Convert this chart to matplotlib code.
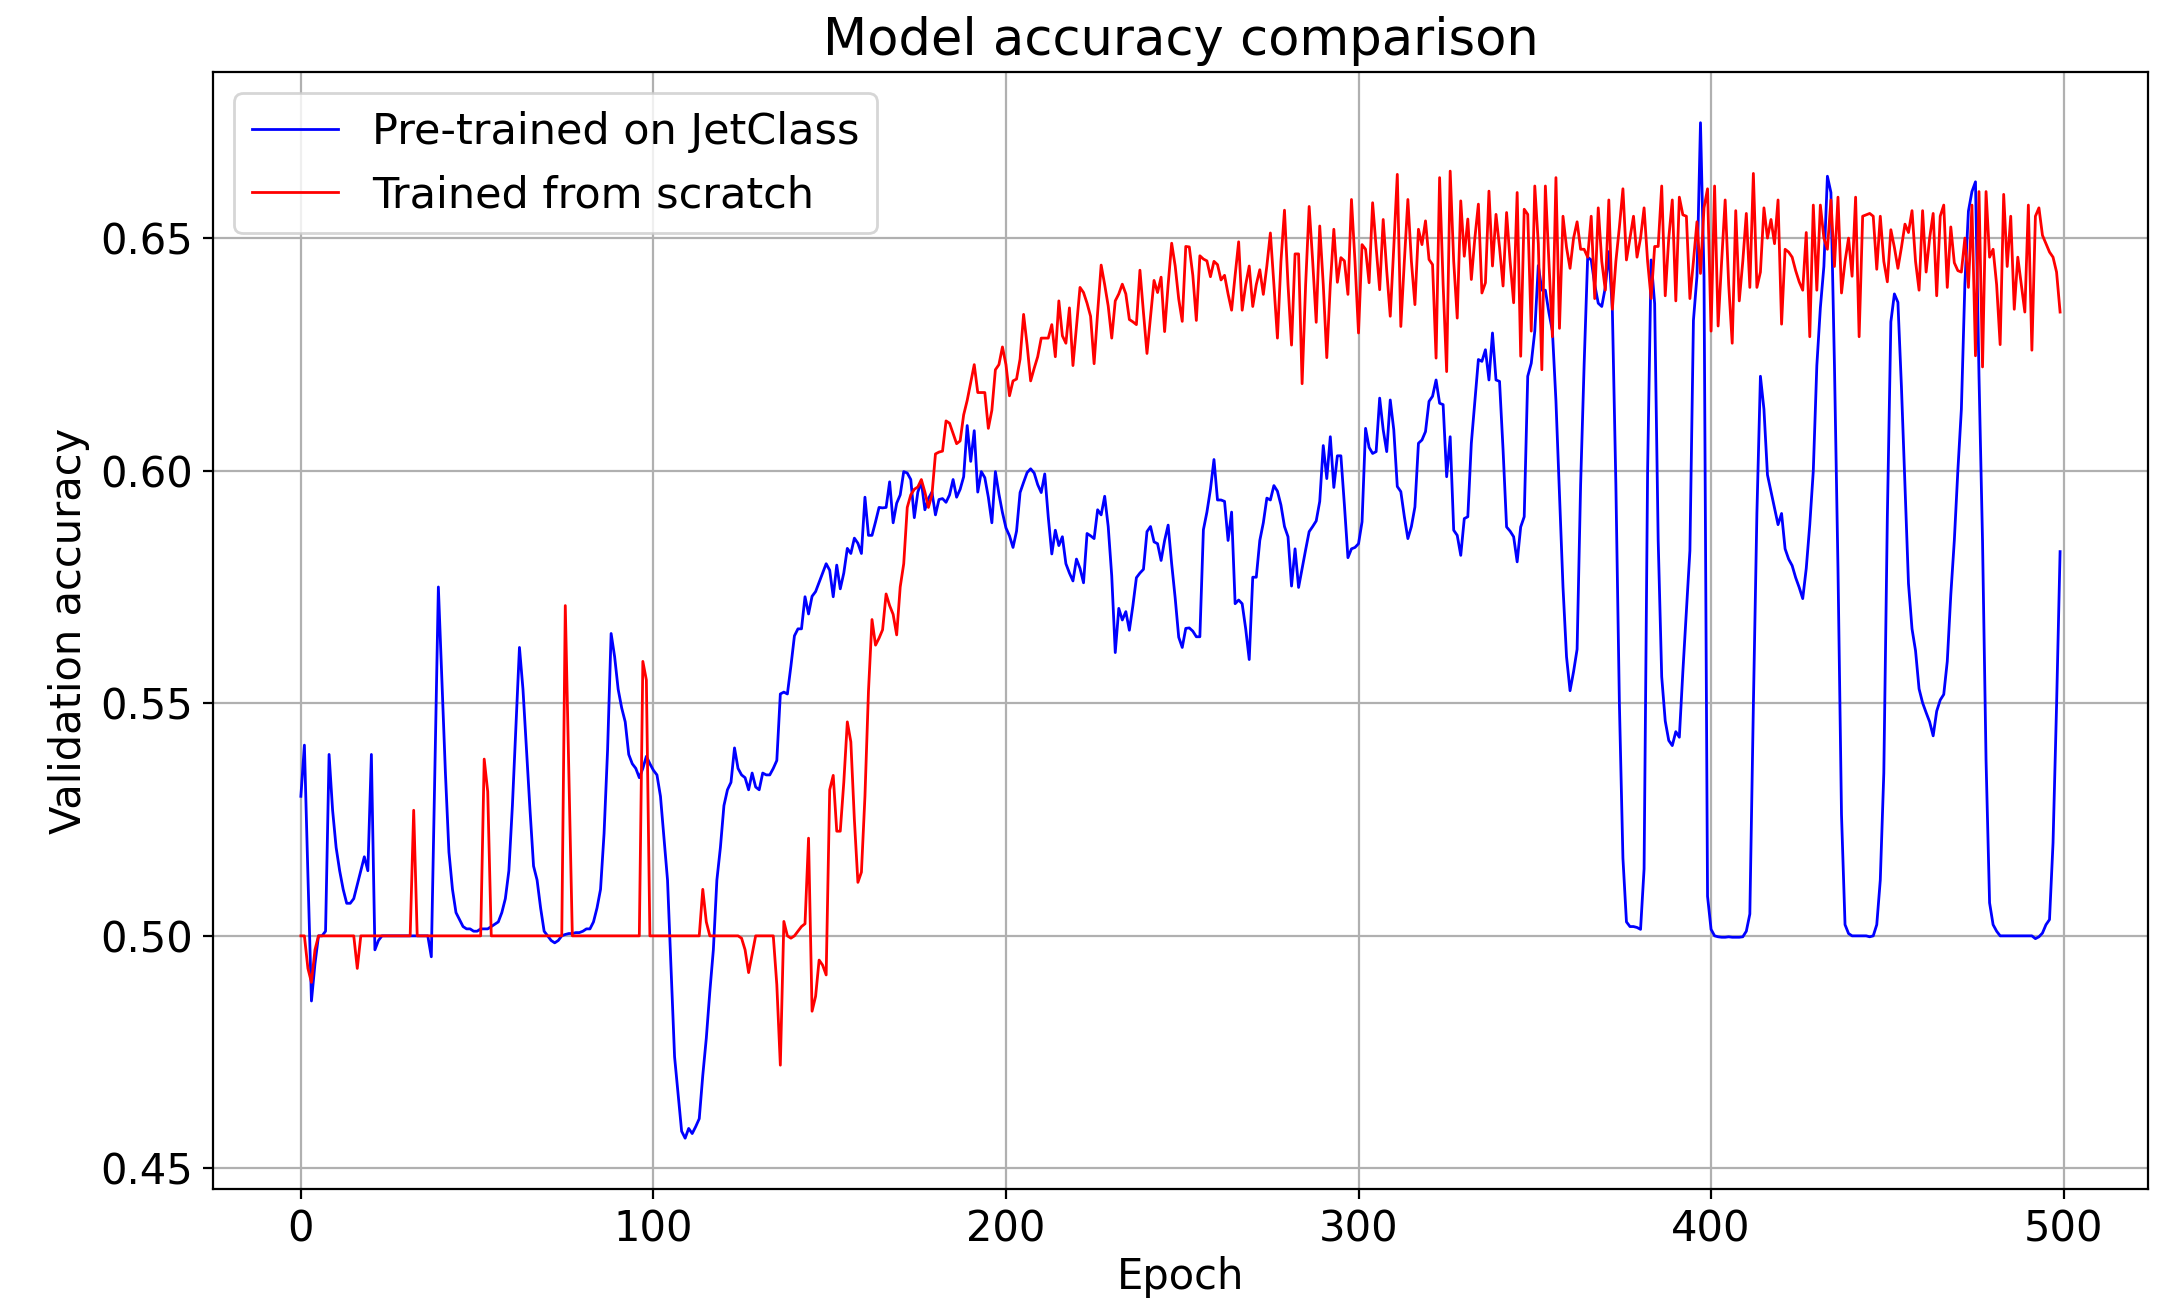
import numpy as np
import matplotlib
matplotlib.use("Agg")
import matplotlib.pyplot as plt

# Validation accuracy per epoch, model initialised from JetClass pre-training
acc_pretrained = [
    0.530, 0.541, 0.513, 0.486, 0.494, 0.500, 0.500, 0.501, 0.539, 0.527,
    0.519, 0.514, 0.510, 0.507, 0.507, 0.508, 0.511, 0.514, 0.517, 0.514,
    0.539, 0.497, 0.499, 0.500, 0.500, 0.500, 0.500, 0.500, 0.500, 0.500,
    0.500, 0.500, 0.500, 0.500, 0.500, 0.500, 0.500, 0.4955, 0.535, 0.575,
    0.555, 0.535, 0.518, 0.510, 0.505, 0.5035, 0.502, 0.5015, 0.5015, 0.501,
    0.501, 0.5015, 0.5015, 0.5015, 0.502, 0.5025, 0.503, 0.505, 0.508, 0.514,
    0.528, 0.545, 0.562, 0.553, 0.540, 0.527, 0.515, 0.512, 0.506, 0.501,
    0.500, 0.499, 0.4985, 0.499, 0.500, 0.5003, 0.5005, 0.5005, 0.5007, 0.5007,
    0.501, 0.5015, 0.5015, 0.503, 0.506, 0.510, 0.522, 0.540, 0.565, 0.560,
    0.553, 0.549, 0.546, 0.539, 0.537, 0.536, 0.534, 0.536, 0.5386, 0.537,
    0.5356, 0.5346, 0.530, 0.521, 0.512, 0.493, 0.474, 0.466, 0.458, 0.4565,
    0.4586, 0.4575, 0.459, 0.4607, 0.470, 0.478, 0.488, 0.497, 0.512, 0.519,
    0.528, 0.5314, 0.533, 0.5404, 0.536, 0.5346, 0.534, 0.5314, 0.535, 0.532,
    0.5314, 0.535, 0.5346, 0.5346, 0.536, 0.5377, 0.552, 0.5524, 0.552, 0.558,
    0.5645, 0.566, 0.566, 0.5729, 0.5692, 0.573, 0.574, 0.576, 0.578, 0.580,
    0.5786, 0.5729, 0.5797, 0.5746, 0.578, 0.5833, 0.5822, 0.5855, 0.5844, 0.5822,
    0.5943, 0.5861, 0.5861, 0.589, 0.5921, 0.592, 0.5921, 0.5976, 0.5888, 0.593,
    0.5948, 0.5998, 0.5995, 0.5981, 0.5899, 0.5954, 0.5976, 0.5916, 0.594, 0.5954,
    0.5905, 0.5938, 0.594, 0.5932, 0.5948, 0.5981, 0.5943, 0.596, 0.5987, 0.6097,
    0.602, 0.6086, 0.5954, 0.5998, 0.5985, 0.5943, 0.5888, 0.5998, 0.595, 0.591,
    0.5877, 0.586, 0.5835, 0.587, 0.5953, 0.5975, 0.5996, 0.6004, 0.5995, 0.597,
    0.5953, 0.5993, 0.590, 0.5821, 0.5872, 0.5839, 0.5858, 0.580, 0.578, 0.5763,
    0.581, 0.579, 0.5759, 0.5865, 0.586, 0.5854, 0.5916, 0.5905, 0.5945, 0.588,
    0.5774, 0.5609, 0.5704, 0.5679, 0.5697, 0.5657, 0.571, 0.577, 0.578, 0.5788,
    0.5869, 0.588, 0.5847, 0.5843, 0.5807, 0.585, 0.5883, 0.580, 0.5726, 0.5642,
    0.562, 0.5661, 0.5662, 0.5655, 0.5643, 0.5643, 0.5873, 0.5911, 0.596, 0.6024,
    0.5937, 0.5937, 0.5934, 0.585, 0.5911, 0.5714, 0.5722, 0.5714, 0.566, 0.5594,
    0.5771, 0.5771, 0.585, 0.5888, 0.5941, 0.5937, 0.5968, 0.5956, 0.5926, 0.588,
    0.5858, 0.5752, 0.5832, 0.5749, 0.579, 0.583, 0.5869, 0.588, 0.5892, 0.5934,
    0.6054, 0.5983, 0.6073, 0.5964, 0.6032, 0.6032, 0.5926, 0.5813, 0.5832, 0.5835,
    0.5843, 0.589, 0.6091, 0.605, 0.6037, 0.6041, 0.6156, 0.6088, 0.6041, 0.6152,
    0.6088, 0.5966, 0.5955, 0.5901, 0.5854, 0.588, 0.5922, 0.6059, 0.6066, 0.6084,
    0.6149, 0.616, 0.6195, 0.6145, 0.6142, 0.5987, 0.6073, 0.5872, 0.5861, 0.5818,
    0.5897, 0.5901, 0.6059, 0.615, 0.6239, 0.6235, 0.626, 0.6195, 0.6296, 0.6195,
    0.6192, 0.6045, 0.5879, 0.5870, 0.5858, 0.5804, 0.5879, 0.5901, 0.6203, 0.6231,
    0.630, 0.6441, 0.6388, 0.6388, 0.634, 0.630, 0.615, 0.595, 0.575, 0.560,
    0.5527, 0.5568, 0.5616, 0.597, 0.6229, 0.6459, 0.6453, 0.640, 0.636, 0.6353,
    0.6394, 0.6471, 0.6347, 0.597, 0.5498, 0.5167, 0.503, 0.502, 0.502, 0.5018,
    0.5014, 0.5144, 0.600, 0.6453, 0.6359, 0.585, 0.5557, 0.5462, 0.542, 0.5409,
    0.5439, 0.5427, 0.5568, 0.570, 0.5828, 0.6323, 0.6418, 0.6748, 0.6418, 0.5085,
    0.5014, 0.500, 0.4998, 0.4997, 0.4997, 0.4998, 0.4997, 0.4997, 0.4997, 0.4998,
    0.501, 0.5047, 0.5495, 0.5908, 0.6203, 0.6132, 0.5991, 0.5955, 0.592, 0.5884,
    0.5908, 0.5832, 0.581, 0.5796, 0.577, 0.5749, 0.5725, 0.579, 0.5884, 0.600,
    0.6226, 0.635, 0.6439, 0.6633, 0.6598, 0.6226, 0.579, 0.526, 0.5024, 0.5005,
    0.500, 0.500, 0.500, 0.500, 0.500, 0.4998, 0.500, 0.5024, 0.512, 0.535,
    0.590, 0.632, 0.638, 0.6362, 0.618, 0.5969, 0.5757, 0.566, 0.5613, 0.5531,
    0.5501, 0.548, 0.546, 0.543, 0.5483, 0.5507, 0.5519, 0.559, 0.5733, 0.585,
    0.600, 0.6132, 0.6403, 0.6558, 0.660, 0.6621, 0.6203, 0.5849, 0.5377, 0.5071,
    0.5024, 0.501, 0.500, 0.500, 0.500, 0.500, 0.500, 0.500, 0.500, 0.500,
    0.500, 0.500, 0.4994, 0.4998, 0.5006, 0.5024, 0.5035, 0.520, 0.5495, 0.5826,
]

# Validation accuracy per epoch, model trained from random initialisation
acc_scratch = [
    0.500, 0.500, 0.493, 0.490, 0.497, 0.500, 0.500, 0.500, 0.500, 0.500,
    0.500, 0.500, 0.500, 0.500, 0.500, 0.500, 0.493, 0.500, 0.500, 0.500,
    0.500, 0.500, 0.500, 0.500, 0.500, 0.500, 0.500, 0.500, 0.500, 0.500,
    0.500, 0.500, 0.527, 0.500, 0.500, 0.500, 0.500, 0.500, 0.500, 0.500,
    0.500, 0.500, 0.500, 0.500, 0.500, 0.500, 0.500, 0.500, 0.500, 0.500,
    0.500, 0.500, 0.538, 0.531, 0.500, 0.500, 0.500, 0.500, 0.500, 0.500,
    0.500, 0.500, 0.500, 0.500, 0.500, 0.500, 0.500, 0.500, 0.500, 0.500,
    0.500, 0.500, 0.500, 0.500, 0.500, 0.571, 0.536, 0.500, 0.500, 0.500,
    0.500, 0.500, 0.500, 0.500, 0.500, 0.500, 0.500, 0.500, 0.500, 0.500,
    0.500, 0.500, 0.500, 0.500, 0.500, 0.500, 0.500, 0.559, 0.555, 0.500,
    0.500, 0.500, 0.500, 0.500, 0.500, 0.500, 0.500, 0.500, 0.500, 0.500,
    0.500, 0.500, 0.500, 0.500, 0.510, 0.503, 0.500, 0.500, 0.500, 0.500,
    0.500, 0.500, 0.500, 0.500, 0.500, 0.4995, 0.497, 0.4921, 0.496, 0.500,
    0.500, 0.500, 0.500, 0.500, 0.500, 0.4895, 0.4722, 0.5031, 0.500, 0.4995,
    0.500, 0.501, 0.502, 0.5026, 0.521, 0.4838, 0.487, 0.4948, 0.4937, 0.4916,
    0.5314, 0.5345, 0.5225, 0.5225, 0.533, 0.546, 0.5417, 0.525, 0.5115, 0.5137,
    0.530, 0.5526, 0.568, 0.5625, 0.564, 0.5658, 0.5735, 0.571, 0.5691, 0.5647,
    0.575, 0.580, 0.5921, 0.5948, 0.596, 0.5965, 0.5981, 0.5954, 0.5921, 0.5948,
    0.6036, 0.604, 0.6042, 0.6107, 0.6102, 0.608, 0.6058, 0.6064, 0.612, 0.6151,
    0.619, 0.6228, 0.6168, 0.6168, 0.6168, 0.6091, 0.613, 0.6217, 0.6228, 0.6266,
    0.6228, 0.6161, 0.6193, 0.6197, 0.624, 0.6336, 0.627, 0.6193, 0.622, 0.6245,
    0.6285, 0.6285, 0.6285, 0.6314, 0.6245, 0.6365, 0.629, 0.6274, 0.635, 0.6226,
    0.631, 0.6394, 0.6383, 0.636, 0.6332, 0.623, 0.634, 0.6442, 0.640, 0.6354,
    0.6285, 0.6365, 0.638, 0.6401, 0.638, 0.6325, 0.632, 0.6314, 0.6431, 0.634,
    0.6252, 0.633, 0.6409, 0.6383, 0.6416, 0.6299, 0.640, 0.6489, 0.644, 0.6369,
    0.6321, 0.6482, 0.6481, 0.642, 0.6323, 0.6462, 0.6455, 0.6451, 0.6417, 0.645,
    0.6443, 0.641, 0.642, 0.638, 0.6345, 0.642, 0.6492, 0.6345, 0.640, 0.644,
    0.6353, 0.640, 0.6432, 0.6379, 0.644, 0.6511, 0.640, 0.6285, 0.645, 0.656,
    0.640, 0.627, 0.6466, 0.6466, 0.6187, 0.640, 0.6568, 0.645, 0.6319, 0.6526,
    0.640, 0.6243, 0.640, 0.6519, 0.6405, 0.6458, 0.6451, 0.6379, 0.6583, 0.645,
    0.6296, 0.6486, 0.6476, 0.6404, 0.6576, 0.648, 0.6389, 0.654, 0.643, 0.6332,
    0.648, 0.6637, 0.631, 0.645, 0.6583, 0.645, 0.6357, 0.6519, 0.6486, 0.6537,
    0.6454, 0.6443, 0.6242, 0.663, 0.640, 0.6213, 0.6644, 0.645, 0.6328, 0.658,
    0.6461, 0.6541, 0.6411, 0.650, 0.6573, 0.6382, 0.6404, 0.6601, 0.644, 0.6551,
    0.648, 0.6397, 0.6555, 0.645, 0.6361, 0.6598, 0.6246, 0.6562, 0.6551, 0.630,
    0.6612, 0.6488, 0.6217, 0.6612, 0.645, 0.6288, 0.663, 0.6306, 0.6547, 0.648,
    0.6435, 0.650, 0.6535, 0.6476, 0.6476, 0.6459, 0.6547, 0.637, 0.6565, 0.645,
    0.6388, 0.6582, 0.6347, 0.645, 0.6524, 0.6606, 0.6453, 0.650, 0.6547, 0.6459,
    0.650, 0.6565, 0.645, 0.637, 0.6482, 0.6482, 0.6612, 0.6376, 0.650, 0.6582,
    0.6365, 0.6588, 0.655, 0.6547, 0.637, 0.645, 0.6535, 0.6424, 0.6565, 0.6606,
    0.630, 0.6612, 0.6311, 0.645, 0.6582, 0.640, 0.6274, 0.6559, 0.6365, 0.645,
    0.6553, 0.6394, 0.6639, 0.6394, 0.6427, 0.6565, 0.650, 0.654, 0.6488, 0.6582,
    0.6315, 0.6476, 0.647, 0.6459, 0.643, 0.6406, 0.6388, 0.6512, 0.6288, 0.6571,
    0.6388, 0.6571, 0.650, 0.6476, 0.6582, 0.6439, 0.6588, 0.6382, 0.645, 0.650,
    0.6418, 0.6588, 0.6288, 0.6547, 0.655, 0.6553, 0.6547, 0.6433, 0.6547, 0.645,
    0.6406, 0.6518, 0.648, 0.6435, 0.648, 0.653, 0.6512, 0.6559, 0.645, 0.6388,
    0.6559, 0.6427, 0.650, 0.6553, 0.6376, 0.6547, 0.6571, 0.6394, 0.6524, 0.6447,
    0.643, 0.6427, 0.650, 0.6394, 0.6571, 0.6247, 0.660, 0.6223, 0.660, 0.6459,
    0.6476, 0.640, 0.6271, 0.6594, 0.6439, 0.6547, 0.6347, 0.6459, 0.640, 0.6341,
    0.6571, 0.6259, 0.6547, 0.6565, 0.6506, 0.6488, 0.647, 0.6459, 0.6427, 0.6341,
]

epochs = np.arange(len(acc_pretrained))
series_labels = ["Pre-trained on JetClass", "Trained from scratch"]
x_ticks = [0, 100, 200, 300, 400, 500]
y_ticks = [0.45, 0.50, 0.55, 0.60, 0.65]

plt.rcParams["font.family"] = ["DejaVu Sans"]
plt.rcParams["font.size"] = 15

fig = plt.figure(figsize=(10.885, 6.53), dpi=200)
ax = fig.add_axes([0.0978, 0.0896, 0.8889, 0.8553])

ax.plot(epochs, acc_pretrained, color="blue", linewidth=1.0, label=series_labels[0])
ax.plot(epochs, acc_scratch, color="red", linewidth=1.0, label=series_labels[1])

ax.set_xticks(x_ticks)
ax.set_yticks(y_ticks)
ax.set_yticklabels([f"{v:.2f}" for v in y_ticks])
ax.grid(True, color="#b0b0b0", linewidth=0.8)
ax.set_axisbelow(True)

ax.set_title("Model accuracy comparison", fontsize=18.4)
ax.set_xlabel("Epoch", labelpad=2)
ax.set_ylabel("Validation accuracy")
ax.legend(loc="upper left", fontsize=15.5)

fig.savefig("out.png", dpi=200)
